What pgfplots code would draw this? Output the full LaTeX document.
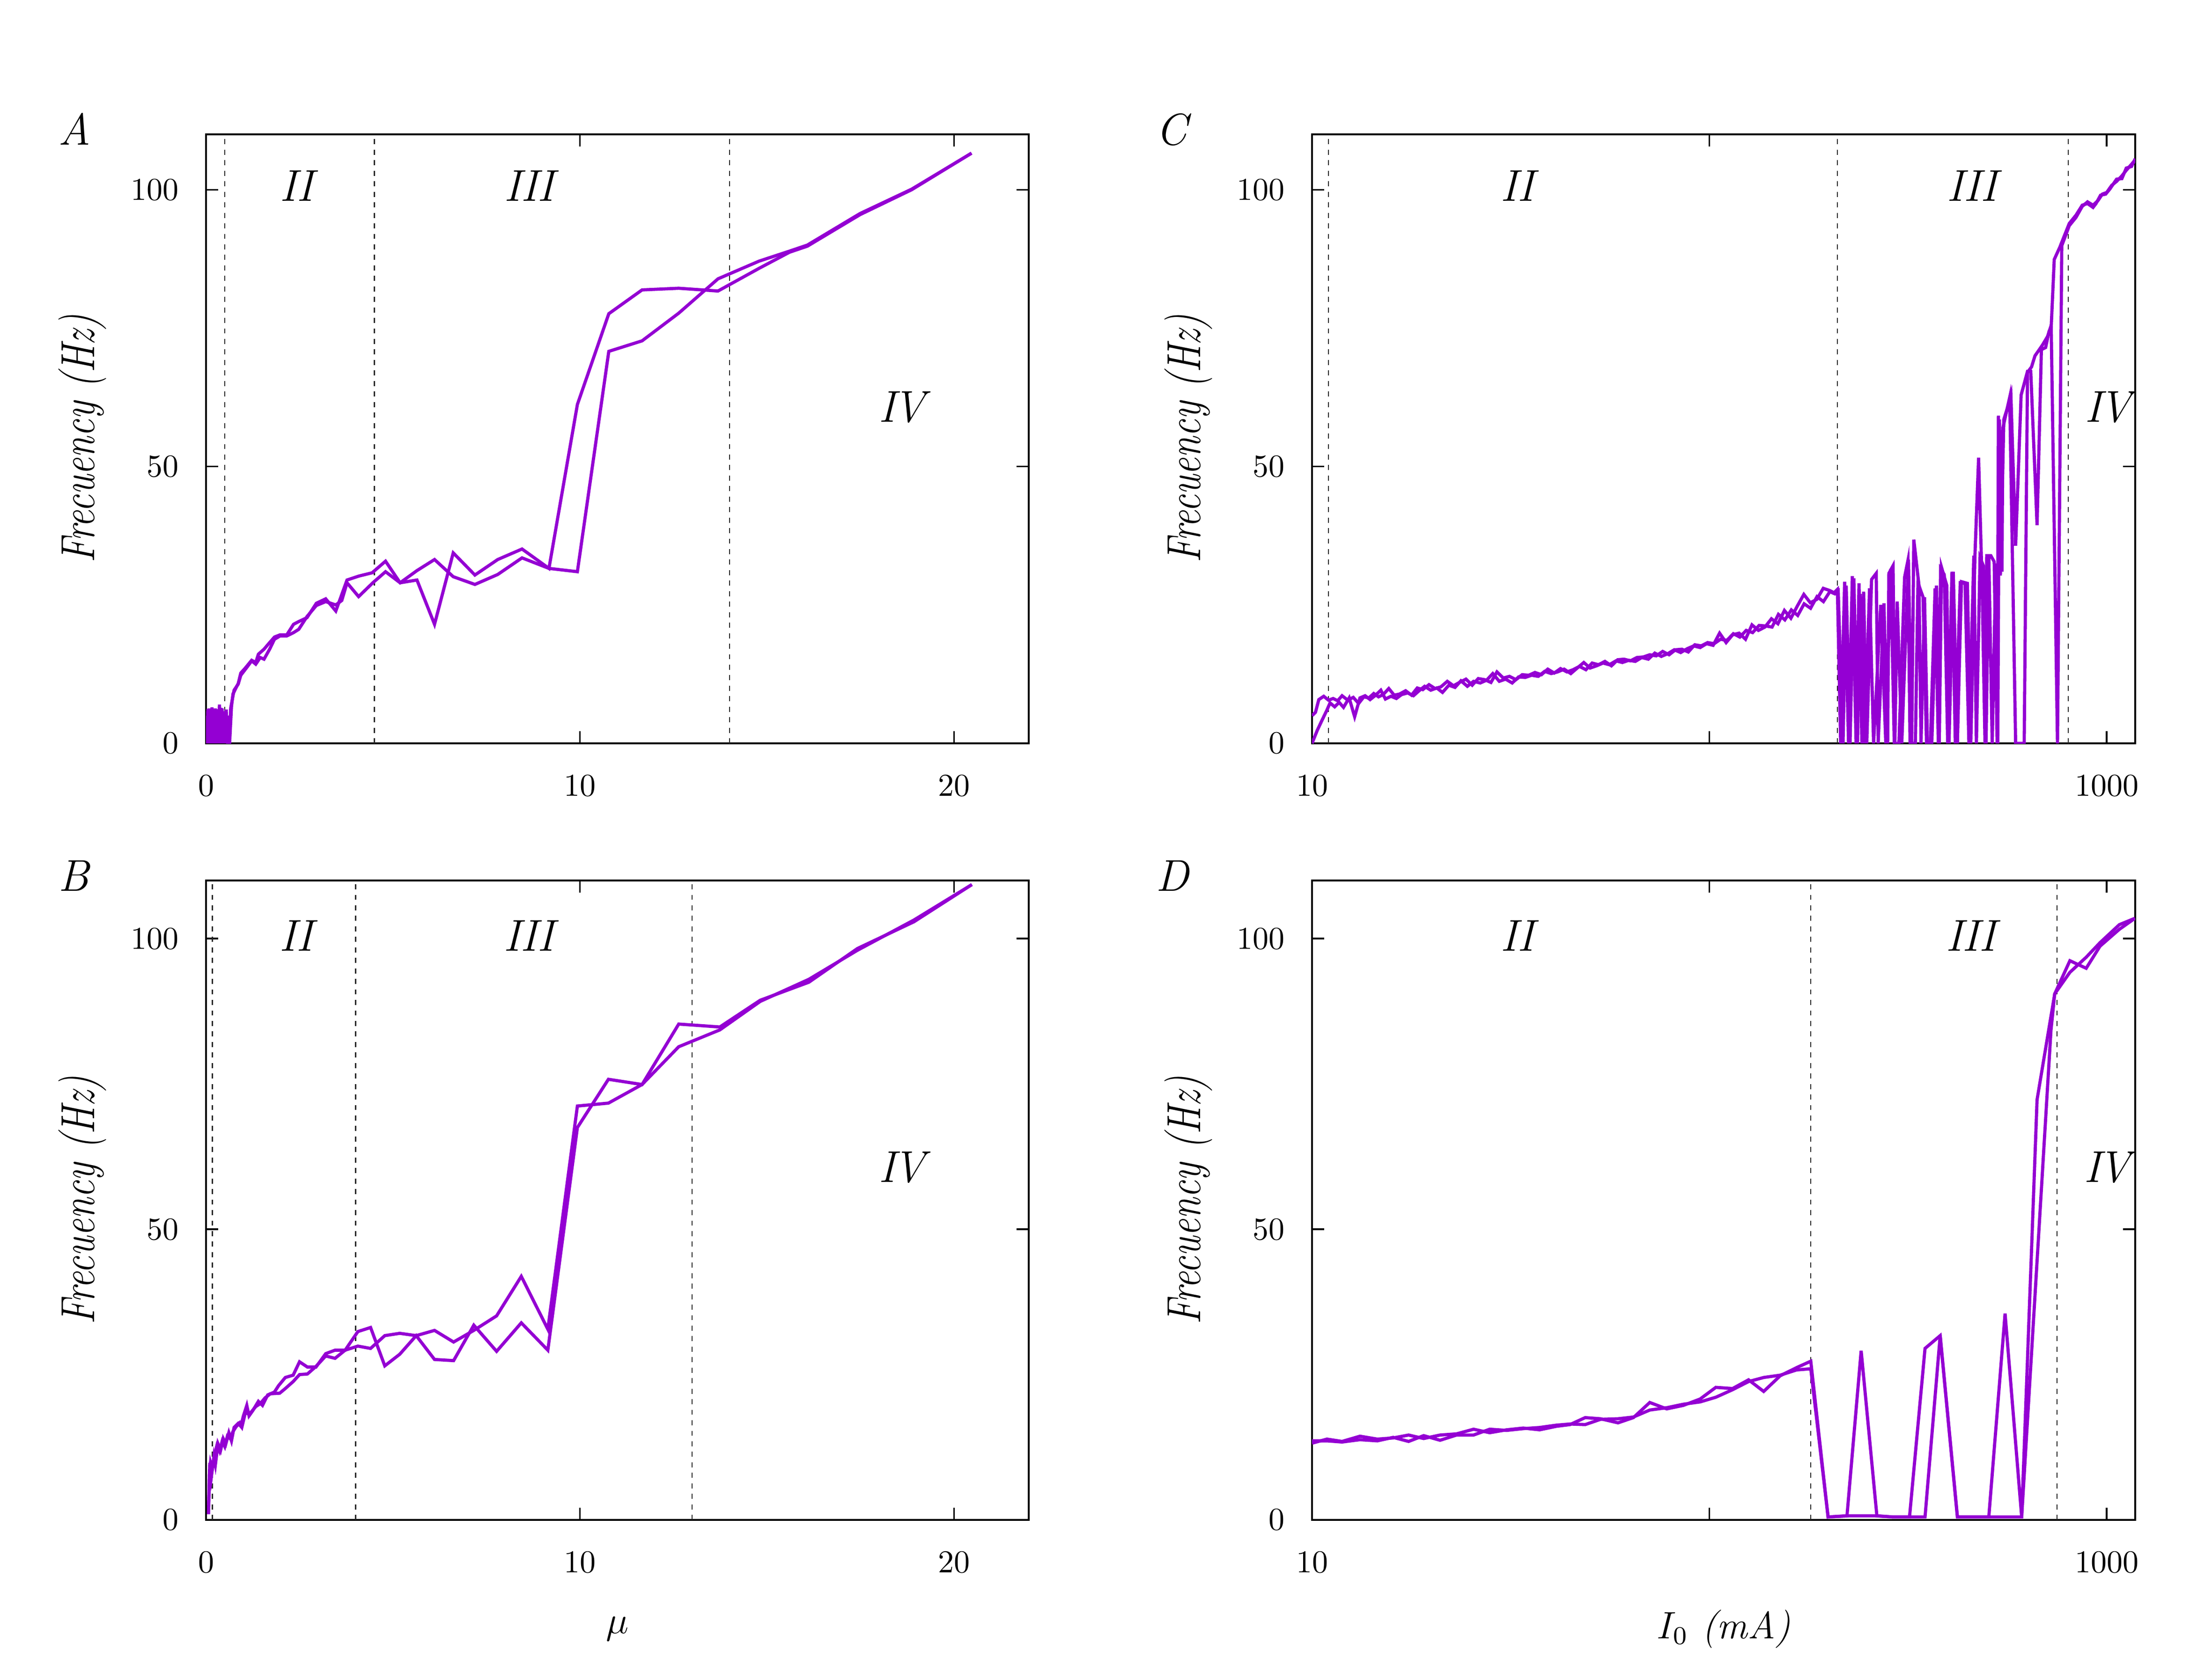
\documentclass[border=0pt]{standalone}
\usepackage{graphicx}
\usepackage{pgfplots}
\pgfplotsset{compat=1.18}
\definecolor{dv}{HTML}{9400D3}
\tikzset{rn/.style={font=\fontsize{14}{16}\selectfont\itshape}}
\newcommand{\IV}{I\kern-0.8pt V}
\begin{document}
\begin{tikzpicture}
\path[use as bounding box] (0pt,0pt) rectangle (694.4pt,-520.65pt);
\pgfplotsset{
 panel/.style={scale only axis, anchor=north west, ymin=0, ymax=110, ytick={0,50,100},
  axis line style={line width=0.5pt}, major tick style={line width=0.5pt, black}, major tick length=3.8pt, tick align=inside,
  tick label style={font=\fontsize{10}{12}\selectfont},
  xticklabel style={yshift=-6.5pt}, yticklabel style={xshift=-5pt},
  ylabel={\scalebox{0.8}[1]{\textit{Frecuency (Hz)}}},
  ylabel style={font=\fontsize{15}{17}\selectfont, at={(axis description cs:-0.1503,0.5)}, anchor=center},
  xlabel style={font=\fontsize{12}{14}\selectfont, at={(axis description cs:0.5,0)}, anchor=center, yshift=-34.25pt},
 },
 cv/.style={color=dv, line width=1pt, mark=none},
 vl/.style={black!85, line width=0.35pt, dash pattern=on 1.6pt off 1.7pt, mark=none},
}
% ---------------- A ----------------
\begin{axis}[panel, at={(64.68pt,-42.19pt)}, width=258.27pt, height=191.24pt, xmin=0, xmax=22, xtick={0,10,20}]
\addplot[vl] coordinates {(0.5,0) (0.5,110)};
\addplot[vl] coordinates {(4.5,0) (4.5,110)};
\addplot[vl] coordinates {(14,0) (14,110)};
\addplot[cv] coordinates {
(0.03,0) (0.05,6.2) (0.07,0) (0.09,4.8) (0.11,0) (0.13,6.0) (0.15,0.4) (0.17,5.5) (0.19,0) (0.22,6.2) (0.24,0) (0.26,4.6) (0.28,0) (0.31,6.0) (0.33,0.3) (0.36,7.0) (0.38,0) (0.40,6.4) (0.42,0) (0.45,5.2) (0.47,0) (0.50,5.8) (0.52,0) (0.55,4.8) (0.58,0) (0.63,0)
(0.68,6.6) (0.72,8.9) (0.80,10.0) (0.86,10.8) (0.93,12.7) (1.05,13.6) (1.22,15.0) (1.33,14.6) (1.40,16.1) (1.55,17.0) (1.65,17.8) (1.83,19.2) (1.98,19.6) (2.16,19.6) (2.34,21.5) (2.48,22.0) (2.70,22.7) (2.95,25.3) (3.20,26.1) (3.47,23.9) (3.77,29.5) (4.08,30.2) (4.44,30.8) (4.80,32.9) (5.19,29.0) (5.64,29.5) (6.11,21.5) (6.61,34.4) (7.19,30.4) (7.80,33.2) (8.45,35.1) (9.17,31.6) (9.93,61.2) (10.77,77.6) (11.66,81.9) (12.64,82.2) (13.69,81.7) (14.79,85.8) (15.60,88.7) (16.08,89.8) (17.49,95.5) (18.87,100.0) (20.47,106.6)};
\addplot[cv] coordinates {
(0.02,0) (0.04,5.0) (0.06,0) (0.08,6.3) (0.10,0) (0.12,5.3) (0.14,0) (0.16,6.5) (0.18,0) (0.20,5.0) (0.23,0) (0.25,6.3) (0.27,0) (0.29,5.5) (0.32,0) (0.34,6.2) (0.37,0) (0.39,5.0) (0.41,0.2) (0.43,6.3) (0.46,0) (0.49,5.3) (0.51,0) (0.54,6.1) (0.57,0.3) (0.60,5.0) (0.62,0)
(0.66,6.4) (0.75,9.6) (0.86,10.7) (0.93,12.3) (1.10,13.8) (1.22,14.9) (1.33,14.3) (1.45,15.5) (1.55,15.2) (1.70,17.0) (1.83,18.8) (1.98,19.4) (2.16,19.4) (2.34,20.0) (2.48,20.6) (2.70,22.9) (2.95,24.9) (3.20,25.6) (3.47,25.0) (3.63,25.8) (3.77,29.0) (4.08,26.5) (4.46,29.0) (4.80,31.0) (5.19,29.0) (5.64,31.2) (6.11,33.2) (6.61,30.1) (7.19,28.7) (7.80,30.5) (8.45,33.5) (9.17,31.6) (9.93,31.0) (10.77,70.8) (11.66,72.7) (12.64,77.7) (13.69,83.9) (14.79,87.1) (15.60,88.9) (16.08,90.0) (17.49,95.7) (18.87,100.1) (20.47,106.6)};
\node[rn] at (axis cs:2.42,100.7) {II};
\node[rn] at (axis cs:8.64,100.7) {III};
\node[rn] at (axis cs:18.61,60.7) {\IV};
\end{axis}
% ---------------- B ----------------
\begin{axis}[panel, at={(64.68pt,-276.50pt)}, width=258.27pt, height=200.79pt, xmin=0, xmax=22, xtick={0,10,20}, xlabel={$\mu$}]
\addplot[vl] coordinates {(0.17,0) (0.17,110)};
\addplot[vl] coordinates {(4.0,0) (4.0,110)};
\addplot[vl] coordinates {(13,0) (13,110)};
\addplot[cv] coordinates {
(0.065,1.0) (0.10,9.8) (0.14,7.3) (0.21,10.9) (0.25,9.5) (0.32,13.1) (0.39,12.0) (0.46,14.0) (0.53,13.1) (0.61,15.0) (0.68,13.6) (0.75,15.9) (0.86,16.6) (0.93,16.1) (1.00,17.9) (1.09,19.7) (1.15,17.9) (1.25,18.8) (1.40,20.4) (1.51,19.7) (1.65,21.5) (1.83,22.0) (1.94,23.1) (2.12,24.5) (2.33,24.9) (2.50,27.2) (2.71,26.3) (2.94,26.3) (3.20,28.6) (3.45,29.2) (3.72,29.2) (4.06,32.4) (4.40,33.1) (4.78,26.5) (5.18,28.5) (5.62,31.7) (6.11,27.6) (6.62,27.4) (7.16,33.5) (7.77,29.0) (8.43,33.9) (9.14,29.2) (9.93,67.5) (10.76,75.8) (11.66,74.9) (12.64,85.3) (13.74,84.8) (14.82,89.4) (16.12,92.5) (17.42,98.3) (18.93,102.9) (20.48,109.3)};
\addplot[cv] coordinates {
(0.065,1.0) (0.09,8.0) (0.12,9.9) (0.17,8.8) (0.24,11.5) (0.29,12.8) (0.36,11.8) (0.43,13.5) (0.50,12.6) (0.57,14.4) (0.64,14.0) (0.72,15.2) (0.80,16.0) (0.90,16.7) (0.96,16.0) (1.05,18.4) (1.12,18.3) (1.20,18.5) (1.33,19.5) (1.45,20.0) (1.58,21.0) (1.72,21.7) (1.97,21.8) (2.12,22.6) (2.33,23.8) (2.50,25.0) (2.71,25.1) (2.94,26.4) (3.20,28.2) (3.45,27.8) (3.72,29.2) (4.06,29.9) (4.40,29.5) (4.78,31.7) (5.18,32.1) (5.62,31.7) (6.11,32.6) (6.62,30.6) (7.16,32.6) (7.77,35.1) (8.43,41.9) (9.14,32.8) (9.93,71.2) (10.76,71.7) (11.66,74.9) (12.64,81.4) (13.74,84.3) (14.82,89.2) (16.12,93.0) (17.42,98.0) (18.93,103.2) (20.48,109.3)};
\node[rn] at (axis cs:2.41,100.5) {II};
\node[rn] at (axis cs:8.63,100.5) {III};
\node[rn] at (axis cs:18.61,60.6) {\IV};
\end{axis}
% ---------------- C ----------------
\begin{axis}[panel, at={(411.88pt,-42.19pt)}, width=258.42pt, height=191.24pt, xmode=log, xmin=10, xmax=1180, xtick={10,100,1000}, xticklabels={$10$,,$1000$}, xminorticks=false]
\addplot[vl] coordinates {(11,0) (11,110)};
\addplot[vl] coordinates {(210,0) (210,110)};
\addplot[vl] coordinates {(800,0) (800,110)};
\addplot[cv] coordinates {
(10.0,0.0) (10.3,2.3) (10.6,4.2) (10.9,6.0) (11.1,7.3) (11.4,6.6) (11.7,7.4) (12.0,6.5) (12.4,8.2) (12.8,4.8) (13.2,8.2) (13.6,8.6) (14.0,7.9) (14.4,8.6) (14.9,9.6) (15.3,8.0) (15.8,8.5) (16.3,8.1) (16.8,8.8) (17.4,9.1) (18.0,8.6) (18.6,9.5) (19.2,10.3) (19.9,9.6) (20.6,10.0) (21.3,9.2) (22.1,10.5) (22.9,10.1) (23.7,11.3) (24.6,10.3) (25.5,11.2) (26.5,10.9) (27.5,11.4) (28.5,12.6) (29.6,11.2) (30.7,11.6) (31.9,10.9) (33.1,12.0) (34.4,11.9) (35.7,12.3) (37.1,12.1) (38.5,13.0) (40.0,12.6) (41.5,12.9) (43.1,13.4) (44.8,12.6) (46.5,13.6) (48.3,14.6) (50.1,13.6) (52.0,14.0) (54.0,14.5) (56.0,14.2) (58.2,14.9) (60.4,14.6) (62.7,15.0) (65.1,14.8) (67.6,15.5) (70.2,15.2) (72.9,16.3) (75.7,15.7) (78.6,16.2) (81.6,16.9) (84.7,16.4) (88.0,17.1) (91.3,17.6) (94.8,17.3) (98.4,18.0) (102.2,17.7) (106.1,19.9) (110.2,18.2) (114.4,19.6) (118.8,19.9) (123.3,18.8) (128.0,21.4) (132.9,20.4) (138.0,21.0) (143.3,22.5) (148.8,21.6) (154.5,24.0) (160.4,22.6) (166.5,24.8) (172.9,26.9) (179.5,25.4) (186.4,26.0) (193.5,28.0) (200.9,27.6) (206.0,27.2) (210.0,27.8)
(214,0) (219,29.2) (224,0) (229,30.2) (234,0) (238,28.9) (242,0) (244.5,27.4) (249,0) (256,29.6) (263,30.7) (266,0) (275,25.3) (281,0) (283,30.7) (290,32.1) (293,0) (297,25.6) (305,0) (317,33.2) (323,0) (327,36.8) (337,28.5) (341,0) (348,26.4) (354,0) (363,0) (373,28.5) (379,0) (384,31.8) (396,28.5) (401,0) (411,31.0) (421,0) (431,29.2) (446,28.9) (455,0) (466,33.9) (476,51.6) (486,28.2) (494,0) (499,33.9) (511,33.9) (521,32.8) (530,0) (534,59.2) (540,30.3) (551,58.5) (562,60.5) (574,62.9) (590,35.7) (609,62.9) (632,67.2) (644,67.2) (668,39.4) (685,71.1) (702,71.5) (716,74.4) (725,75.1) (738,87.4) (762,89.6) (805,93.9) (837,95.4) (868,97.2) (895,97.5) (924,96.8) (940,97.5) (965,99.0) (994,99.2) (1018,100.1) (1059,101.9) (1092,102.0) (1120,103.9) (1155,104.2) (1180,105.6)};
\addplot[cv] coordinates {
(10.0,5.0) (10.2,5.6) (10.4,7.9) (10.7,8.5) (11.0,7.8) (11.3,8.1) (11.6,7.7) (11.9,8.6) (12.3,7.8) (12.7,8.3) (13.1,7.2) (13.5,8.4) (13.9,8.2) (14.3,9.0) (14.7,8.4) (15.1,8.8) (15.6,9.9) (16.1,8.7) (16.6,8.9) (17.2,9.5) (17.8,8.7) (18.4,10.0) (19.0,9.7) (19.7,10.6) (20.4,9.9) (21.1,10.2) (21.9,11.2) (22.7,10.4) (23.5,11.0) (24.4,11.6) (25.3,10.5) (26.2,11.7) (27.2,11.5) (28.2,11.0) (29.2,12.9) (30.3,11.8) (31.4,12.1) (32.6,11.5) (33.8,12.4) (35.1,12.3) (36.4,12.8) (37.8,12.4) (39.2,13.4) (40.7,12.7) (42.2,13.5) (43.8,12.9) (45.4,13.3) (47.1,13.9) (48.9,13.3) (50.7,14.5) (52.6,14.2) (54.6,14.8) (56.7,14.0) (58.8,15.1) (61.0,15.2) (63.3,14.9) (65.7,15.5) (68.2,15.6) (70.8,16.0) (73.5,15.8) (76.3,16.6) (79.2,16.0) (82.2,16.9) (85.3,17.0) (88.5,16.5) (91.9,17.8) (95.4,17.6) (99.0,18.2) (102.8,18.0) (106.7,18.8) (110.7,18.6) (114.9,19.8) (119.3,19.2) (123.8,20.4) (128.5,20.0) (133.4,21.3) (138.5,21.2) (143.8,21.0) (149.2,23.3) (154.9,22.3) (160.8,24.1) (166.9,23.1) (173.2,25.2) (179.8,24.4) (186.6,26.5) (193.7,25.6) (201.0,27.4) (207.0,27.0)
(211,27.5) (217,0) (221,28.5) (226,0) (231,29.8) (236,0) (240,27.0) (246,0) (253,28.0) (259,0) (270,25.0) (278,0) (286,31.5) (292,0) (300,0) (310,30.0) (316,33.0) (320,0) (330,0) (335,29.0) (345,26.4) (352,0) (360,0) (370,28.0) (377,0) (382,31.5) (390,30.5) (398,0) (408,31.0) (416,0) (428,29.0) (440,28.9) (450,0) (463,33.9) (470,0) (480,33.5) (490,32.0) (497,0) (505,34.0) (515,0) (526,32.5) (532,0) (537,58.5) (545,31.0) (548,57.0) (560,60.0) (570,62.5) (590,0) (620,0) (632,67.0) (647,68.0) (660,70.0) (675,71.0) (690,72.0) (710,73.5) (725,75.5) (752,0) (771,89.9) (805,93.5) (837,95.0) (868,97.0) (895,97.8) (924,97.2) (950,98.0) (975,99.2) (1000,99.5) (1030,100.8) (1059,101.5) (1092,102.5) (1120,103.5) (1155,104.6) (1180,105.4)};
\node[rn] at (axis cs:32.9,100.7) {II};
\node[rn] at (axis cs:458,100.7) {III};
\node[rn] at (axis cs:1008,60.7) {\IV};
\end{axis}
% ---------------- D ----------------
\begin{axis}[panel, at={(411.88pt,-276.50pt)}, width=258.42pt, height=200.79pt, xmode=log, xmin=10, xmax=1180, xtick={10,100,1000}, xticklabels={$10$,,$1000$}, xminorticks=false, xlabel={\textit{$I_0$ (mA)}}]
\addplot[vl] coordinates {(180,0) (180,110)};
\addplot[vl] coordinates {(750,0) (750,110)};
\addplot[cv] coordinates {
(10.0,13.2) (10.9,13.9) (11.9,13.5) (13.2,14.4) (14.6,13.9) (16.0,14.1) (17.5,14.6) (19.1,14.0) (21.0,14.6) (23.1,14.8) (25.5,15.6) (28.0,15.0) (30.9,15.5) (34.0,15.8) (37.4,15.5) (41.2,16.1) (44.6,16.4) (48.7,17.6) (53.2,17.4) (58.9,16.7) (64.4,17.6) (70.8,20.2) (78.1,19.1) (86.0,19.7) (94.8,20.8) (103.8,22.8) (114.4,22.6) (125.5,24.1) (137.0,22.1) (150.8,24.8) (165.8,26.2) (180.0,27.3)
(199,0.5) (222,0.7) (241,29.1) (264,0.7) (290,0.5) (319,0.5) (349,29.5) (381,31.7) (421,0.5) (505,0.5) (555,35.5) (611,0.5) (668,72.3) (740,90.5) (808,96.2) (888,94.9) (962,98.7) (1076,101.6) (1178,103.5)};
\addplot[cv] coordinates {
(10.0,13.6) (10.9,13.6) (11.9,13.4) (13.2,13.8) (14.6,13.6) (16.0,14.2) (17.5,13.5) (19.1,14.5) (21.0,13.7) (23.1,14.6) (25.5,14.6) (28.0,15.6) (30.9,15.4) (34.0,15.7) (37.4,15.9) (41.2,16.3) (44.6,16.5) (48.7,16.4) (53.2,17.3) (58.9,17.4) (64.4,17.7) (70.8,18.9) (78.1,19.3) (86.0,19.9) (94.8,20.3) (103.8,21.1) (114.4,22.4) (125.5,23.8) (137.0,24.5) (150.8,24.9) (165.8,25.8) (180.0,26.0)
(199,0.5) (222,0.7) (264,0.7) (290,0.5) (319,0.5) (349,0.5) (381,31.7) (421,0.5) (505,0.5) (611,0.5) (724,84.2) (740,90.5) (808,94.2) (888,96.8) (962,99.3) (1076,102.4) (1178,103.5)};
\node[rn] at (axis cs:32.9,100.5) {II};
\node[rn] at (axis cs:455,100.5) {III};
\node[rn] at (axis cs:1003,60.6) {\IV};
\end{axis}
% panel letters
\node[anchor=base west, inner sep=0pt, font=\fontsize{14}{16}\selectfont\itshape] at (18.08pt,-45.57pt) {A};
\node[anchor=base west, inner sep=0pt, font=\fontsize{14}{16}\selectfont\itshape] at (18.08pt,-279.87pt) {B};
\node[anchor=base west, inner sep=0pt, font=\fontsize{14}{16}\selectfont\itshape] at (362.6pt,-45.57pt) {C};
\node[anchor=base west, inner sep=0pt, font=\fontsize{14}{16}\selectfont\itshape] at (362.6pt,-279.87pt) {D};
\end{tikzpicture}
\end{document}
